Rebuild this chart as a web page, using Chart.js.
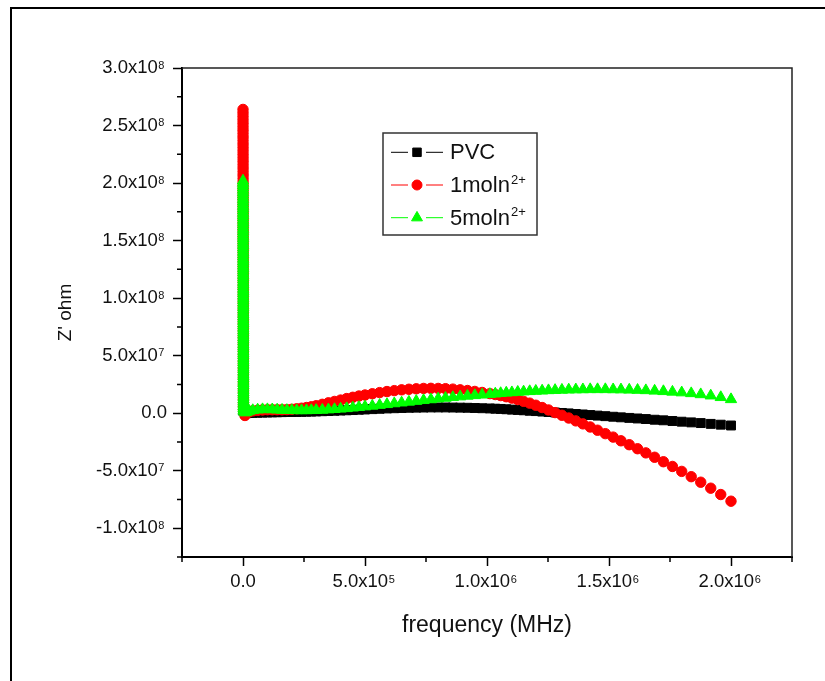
<!DOCTYPE html>
<html>
<head>
<meta charset="utf-8">
<script src="https://cdn.jsdelivr.net/npm/chart.js@4.4.1/dist/chart.umd.min.js"></script>
<style>
  html, body { margin: 0; padding: 0; background: #fff; }
  canvas { display: block; }
</style>
</head>
<body>
<canvas id="c" width="825" height="681"></canvas>
<script>
// ---------------- DATA ----------------
const UNIT = 1e7; // Z' values below are in units of 1e7 ohm

const seriesNames = ['PVC', '1moln', '5moln'];
const seriesSup   = ['', '2+', '2+'];

// very low frequencies: the vertical spike at f ~ 0
const spikeFreq = [20,40,60,80,100,120,140,160,180,200,
                   220,240,260,280,300,320,340,360,380,400,
                   420,440,460,480,500,520,540,560,580,600,
                   620,640,660,680,700,720,740,760,780,800,
                   820,840,860,880,900,920,940,960,980,1000,
                   1020,1040,1060,1080,1100,1120,1140,1160,1180,1200,
                   1220,1240,1260,1280,1300,1320,1340,1360,1380,1400,
                   1420,1440,1460,1480,1500,1520,1540,1560,1580,1600,
                   1620,1640,1660,1680,1700,1720,1740,1760,1780,1800,
                   1820,1840,1860,1880,1900,1920,1940,1960,1980,2000,
                   2020];
const pvcSpike  = [12.0,11.8,11.6,11.4,11.2,11.0,10.8,10.6,10.4,10.2,
                   10.0,9.8,9.6,9.4,9.2,9.0,8.8,8.6,8.4,8.2,
                   8.0,7.8,7.6,7.4,7.2,7.0,6.8,6.6,6.4,6.2,
                   6.0,5.8,5.6,5.4,5.2,5.0,4.8,4.6,4.4,4.2,
                   4.0,3.8,3.6,3.4,3.2,3.0,2.8,2.6,2.4,2.2,
                   2.0,1.8,1.6,1.4,1.2,1.0,0.8,0.6,0.4,0.2];
const mol1Spike = [26.4,26.1,25.8,25.5,25.2,24.9,24.6,24.3,24.0,23.7,
                   23.4,23.1,22.8,22.5,22.2,21.9,21.6,21.3,21.0,20.7,
                   20.4,20.1,19.8,19.5,19.2,18.9,18.6,18.3,18.0,17.7,
                   17.4,17.1,16.8,16.5,16.2,15.9,15.6,15.3,15.0,14.7,
                   14.4,14.1,13.8,13.5,13.2,12.9,12.6,12.3,12.0,11.7,
                   11.4,11.1,10.8,10.5,10.2,9.9,9.6,9.3,9.0,8.7,
                   8.4,8.1,7.8,7.5,7.2,6.9,6.6,6.3,6.0,5.7,
                   5.4,5.1,4.8,4.5,4.2,3.9,3.6,3.3,3.0,2.7,
                   2.4,2.1,1.8,1.5,1.2,0.9,0.6,0.3];
const mol5Spike = [20.2,20.0,19.8,19.6,19.4,19.2,19.0,18.8,18.6,18.4,
                   18.2,18.0,17.8,17.6,17.4,17.2,17.0,16.8,16.6,16.4,
                   16.2,16.0,15.8,15.6,15.4,15.2,15.0,14.8,14.6,14.4,
                   14.2,14.0,13.8,13.6,13.4,13.2,13.0,12.8,12.6,12.4,
                   12.2,12.0,11.8,11.6,11.4,11.2,11.0,10.8,10.6,10.4,
                   10.2,10.0,9.8,9.6,9.4,9.2,9.0,8.8,8.6,8.4,
                   8.2,8.0,7.8,7.6,7.4,7.2,7.0,6.8,6.6,6.4,
                   6.2,6.0,5.8,5.6,5.4,5.2,5.0,4.8,4.6,4.4,
                   4.2,4.0,3.8,3.6,3.4,3.2,3.0,2.8,2.6,2.4,
                   2.2,2.0,1.8,1.6,1.4,1.2,1.0,0.8,0.6,0.4,
                   0.2];

// main frequency sweep
const freq = [8e3,1.5e4,2.5e4,4e4,6e4,8e4,1.0e5,1.2e5,1.4e5,1.6e5,1.8e5,2.0e5,2.2e5,2.4e5,2.6e5,2.8e5,3.0e5,
              3.25e5,3.5e5,3.75e5,4.0e5,4.25e5,4.5e5,4.75e5,5.0e5,5.3e5,5.6e5,5.9e5,6.2e5,6.5e5,6.8e5,7.1e5,
              7.4e5,7.7e5,8.0e5,8.3e5,8.6e5,8.9e5,9.2e5,9.5e5,9.8e5,
              1.012e6,1.034e6,1.056e6,1.079e6,1.102e6,1.126e6,1.150e6,1.175e6,1.200e6,1.226e6,1.252e6,
              1.279e6,1.307e6,1.335e6,1.364e6,1.393e6,1.423e6,1.453e6,1.485e6,1.517e6,1.549e6,1.583e6,
              1.617e6,1.651e6,1.687e6,1.723e6,1.760e6,1.798e6,1.837e6,1.876e6,1.917e6,1.958e6,2.0e6];
const pvcZ  = [0.0,0.0,0.02,0.03,0.04,0.05,0.06,0.07,0.08,0.09,0.1,0.1,0.11,0.12,0.13,0.14,0.15,0.17,0.19,0.21,
               0.23,0.25,0.27,0.3,0.32,0.35,0.38,0.41,0.43,0.45,0.47,0.48,0.49,0.5,0.5,0.5,0.49,0.48,0.47,0.45,0.43,
               0.41,0.39,0.37,0.34,0.31,0.28,0.25,0.21,0.18,0.14,0.1,0.06,0.02,-0.02,-0.07,-0.11,-0.16,-0.21,
               -0.26,-0.31,-0.36,-0.41,-0.46,-0.51,-0.57,-0.62,-0.68,-0.74,-0.8,-0.86,-0.93,-1.0,-1.07];
const mol1Z = [-0.2,0.0,0.12,0.2,0.25,0.28,0.3,0.3,0.3,0.3,0.31,0.34,0.38,0.43,0.49,0.56,0.65,0.77,0.9,1.02,
               1.14,1.27,1.38,1.49,1.58,1.69,1.79,1.88,1.96,2.03,2.08,2.12,2.15,2.16,2.15,2.13,2.09,2.03,1.97,1.89,1.8,
               1.7,1.62,1.53,1.43,1.31,1.18,1.03,0.87,0.69,0.49,0.28,0.05,-0.18,-0.42,-0.67,-0.93,-1.2,-1.48,
               -1.78,-2.08,-2.4,-2.74,-3.09,-3.45,-3.83,-4.22,-4.63,-5.06,-5.52,-6.0,-6.52,-7.07,-7.65];
const mol5Z = [0.05,0.1,0.18,0.25,0.3,0.33,0.33,0.32,0.3,0.28,0.26,0.25,0.24,0.24,0.24,0.25,0.26,0.28,0.31,0.34,
               0.38,0.42,0.47,0.52,0.57,0.63,0.7,0.77,0.84,0.91,0.98,1.05,1.12,1.19,1.26,1.32,1.38,1.44,1.5,1.55,1.6,
               1.65,1.69,1.73,1.77,1.8,1.84,1.87,1.9,1.93,1.95,1.98,2.0,2.02,2.04,2.05,2.06,2.07,2.07,2.07,
               2.06,2.05,2.03,2.01,1.98,1.94,1.9,1.85,1.79,1.72,1.63,1.52,1.38,1.2];

// axis ticks (label = base text + superscript exponent)
const xTickValues = [0, 5e5, 1e6, 1.5e6, 2e6];
const xTickBase   = ['0.0', '5.0x10', '1.0x10', '1.5x10', '2.0x10'];
const xTickExp    = ['', '5', '6', '6', '6'];
const xMinorValues = [-2.5e5, 2.5e5, 7.5e5, 1.25e6, 1.75e6, 2.25e6];
const yTickValues = [-1e8, -5e7, 0, 5e7, 1e8, 1.5e8, 2e8, 2.5e8, 3e8];
const yTickBase   = ['-1.0x10', '-5.0x10', '0.0', '5.0x10', '1.0x10', '1.5x10', '2.0x10', '2.5x10', '3.0x10'];
const yTickExp    = ['8', '7', '', '7', '8', '8', '8', '8', '8'];
const yMinorValues = [-1.25e8, -7.5e7, -2.5e7, 2.5e7, 7.5e7, 1.25e8, 1.75e8, 2.25e8, 2.75e8];

const xTitle = 'frequency (MHz)';
const yTitle = "Z' ohm";

// ---------------- BUILD ----------------
function pts(fs, vs, ff, vv) {
  const out = [];
  vs.forEach((v, i) => out.push({ x: fs[i], y: v * UNIT }));
  vv.forEach((v, i) => out.push({ x: ff[i], y: v * UNIT }));
  return out;
}
const FONT = "'Liberation Sans', Arial, sans-serif";
const TICK_SIZE = 18.5, EXP_SIZE = 11, PAD = '\u2002';
const TL = 9, XPAD = 5, YPAD = 6;

const datasets = [
  { label: seriesNames[0], data: pts(spikeFreq, pvcSpike, freq, pvcZ),
    pointStyle: 'rect', pointRadius: 6.3, pointBorderWidth: 1,
    pointBackgroundColor: '#000000', pointBorderColor: '#000000', order: 3 },
  { label: seriesNames[1] + '\u00b2\u207a', data: pts(spikeFreq, mol1Spike, freq, mol1Z),
    pointStyle: 'circle', pointRadius: 5.2, pointBorderWidth: 1,
    pointBackgroundColor: '#ff0000', pointBorderColor: '#ff0000', order: 2 },
  { label: seriesNames[2] + '\u00b2\u207a', data: pts(spikeFreq, mol5Spike, freq, mol5Z),
    pointStyle: 'triangle', pointRadius: 6.5, pointBorderWidth: 1,
    pointBackgroundColor: '#00ff00', pointBorderColor: '#00ff00', order: 1 }
];

const decor = {
  id: 'decor',
  beforeDraw(chart) {
    const ctx = chart.ctx;
    ctx.save();
    ctx.fillStyle = '#fff';
    ctx.fillRect(0, 0, chart.width, chart.height);
    ctx.strokeStyle = '#000';
    ctx.lineWidth = 2;
    ctx.beginPath();
    ctx.moveTo(10, 8); ctx.lineTo(825, 8);
    ctx.moveTo(11, 7); ctx.lineTo(11, 681);
    ctx.stroke();
    ctx.restore();
  },
  afterDraw(chart) {
    const ctx = chart.ctx;
    const a = chart.chartArea;
    const xs = chart.scales.x, ys = chart.scales.y;
    ctx.save();
    // top & right frame
    ctx.strokeStyle = '#222';
    ctx.lineWidth = 1.5;
    ctx.beginPath();
    ctx.moveTo(a.left, a.top); ctx.lineTo(a.right, a.top); ctx.lineTo(a.right, a.bottom);
    ctx.stroke();
    // minor ticks
    ctx.strokeStyle = '#000';
    ctx.beginPath();
    yMinorValues.forEach(v => { const p = ys.getPixelForValue(v); ctx.moveTo(a.left - 5, p); ctx.lineTo(a.left, p); });
    xMinorValues.forEach(v => { const p = xs.getPixelForValue(v); ctx.moveTo(p, a.bottom); ctx.lineTo(p, a.bottom + 5); });
    ctx.stroke();

    // superscript exponents of the tick labels
    ctx.fillStyle = '#111';
    ctx.textBaseline = 'alphabetic';
    ctx.textAlign = 'left';
    const baseFont = TICK_SIZE + 'px ' + FONT, expFont = EXP_SIZE + 'px ' + FONT;
    ctx.font = baseFont;
    const padW = ctx.measureText(PAD).width;
    yTickValues.forEach((v, i) => {
      if (!yTickExp[i]) return;
      const py = ys.getPixelForValue(v);
      const R = a.left - TL - YPAD;
      ctx.font = expFont;
      ctx.fillText(yTickExp[i], R - padW + 0.5, py + 0.5);
    });
    const xMid = a.bottom + TL + XPAD + TICK_SIZE * 1.2 / 2;
    xTickValues.forEach((v, i) => {
      if (!xTickExp[i]) return;
      const px = xs.getPixelForValue(v);
      ctx.font = baseFont;
      const wAll = ctx.measureText(xTickBase[i] + PAD).width;
      const wBase = ctx.measureText(xTickBase[i]).width;
      ctx.font = expFont;
      ctx.fillText(xTickExp[i], px - wAll / 2 + wBase + 0.5, xMid + 0.5);
    });

    // legend
    const bx = 383, by = 133, bw = 154, bh = 102;
    ctx.strokeStyle = '#333';
    ctx.lineWidth = 1.5;
    ctx.strokeRect(bx, by, bw, bh);
    const rows = [152.3, 185, 217.7];
    chart.data.datasets.forEach((ds, i) => {
      const y = rows[i];
      const col = ds.pointBackgroundColor;
      ctx.strokeStyle = col;
      ctx.lineWidth = 1;
      ctx.beginPath();
      ctx.moveTo(391, y); ctx.lineTo(408, y);
      ctx.moveTo(426, y); ctx.lineTo(443, y);
      ctx.stroke();
      ctx.fillStyle = col;
      ctx.strokeStyle = col;
      const r = ds.pointStyle === 'circle' ? 5 : (ds.pointStyle === 'rect' ? 6 : 6.3);
      Chart.helpers.drawPoint(ctx, { pointStyle: ds.pointStyle, radius: r, rotation: 0, borderWidth: 1 }, 417, y);
      ctx.fillStyle = '#111';
      ctx.textAlign = 'left';
      ctx.textBaseline = 'middle';
      ctx.font = '22px ' + FONT;
      ctx.fillText(seriesNames[i], 450, y + 1);
      if (seriesSup[i]) {
        const w = ctx.measureText(seriesNames[i]).width;
        ctx.font = '13px ' + FONT;
        ctx.textBaseline = 'alphabetic';
        ctx.fillText(seriesSup[i], 450 + w + 1, y - 1.5);
      }
    });
    ctx.restore();
  }
};

new Chart(document.getElementById('c'), {
  type: 'scatter',
  data: { datasets },
  options: {
    responsive: false,
    animation: false,
    devicePixelRatio: 1,
    layout: { padding: { left: 0, top: 68, right: 33, bottom: 0 } },
    plugins: { legend: { display: false }, tooltip: { enabled: false } },
    scales: {
      x: {
        type: 'linear', min: -2.5e5, max: 2.25e6,
        afterBuildTicks: s => { s.ticks = xTickValues.map(v => ({ value: v })); },
        afterFit: s => { s.height = 124; },
        grid: { display: true, drawOnChartArea: false, drawTicks: true, tickLength: TL, tickWidth: 1.5, tickColor: '#000' },
        border: { display: true, color: '#000', width: 2 },
        ticks: {
          autoSkip: false, maxRotation: 0, padding: XPAD, color: '#111',
          font: { family: FONT, size: TICK_SIZE },
          callback: v => { const i = xTickValues.indexOf(v); return i < 0 ? '' : xTickBase[i] + (xTickExp[i] ? PAD : ''); }
        },
        title: { display: true, text: xTitle, color: '#111', font: { family: FONT, size: 23 },
                 padding: { top: 0, bottom: 41.5 } }
      },
      y: {
        type: 'linear', min: -1.25e8, max: 3e8,
        afterBuildTicks: s => { s.ticks = yTickValues.map(v => ({ value: v })); },
        afterFit: s => { s.width = 182; },
        grid: { display: true, drawOnChartArea: false, drawTicks: true, tickLength: TL, tickWidth: 1.5, tickColor: '#000' },
        border: { display: true, color: '#000', width: 2 },
        ticks: {
          autoSkip: false, padding: YPAD, color: '#111',
          font: { family: FONT, size: TICK_SIZE },
          callback: v => { const i = yTickValues.indexOf(v); return i < 0 ? '' : yTickBase[i] + (yTickExp[i] ? PAD : ''); }
        },
        title: { display: true, text: yTitle, color: '#111', font: { family: FONT, size: 19 },
                 padding: { top: 54.6, bottom: 0 } }
      }
    }
  },
  plugins: [decor]
});
</script>
</body>
</html>
